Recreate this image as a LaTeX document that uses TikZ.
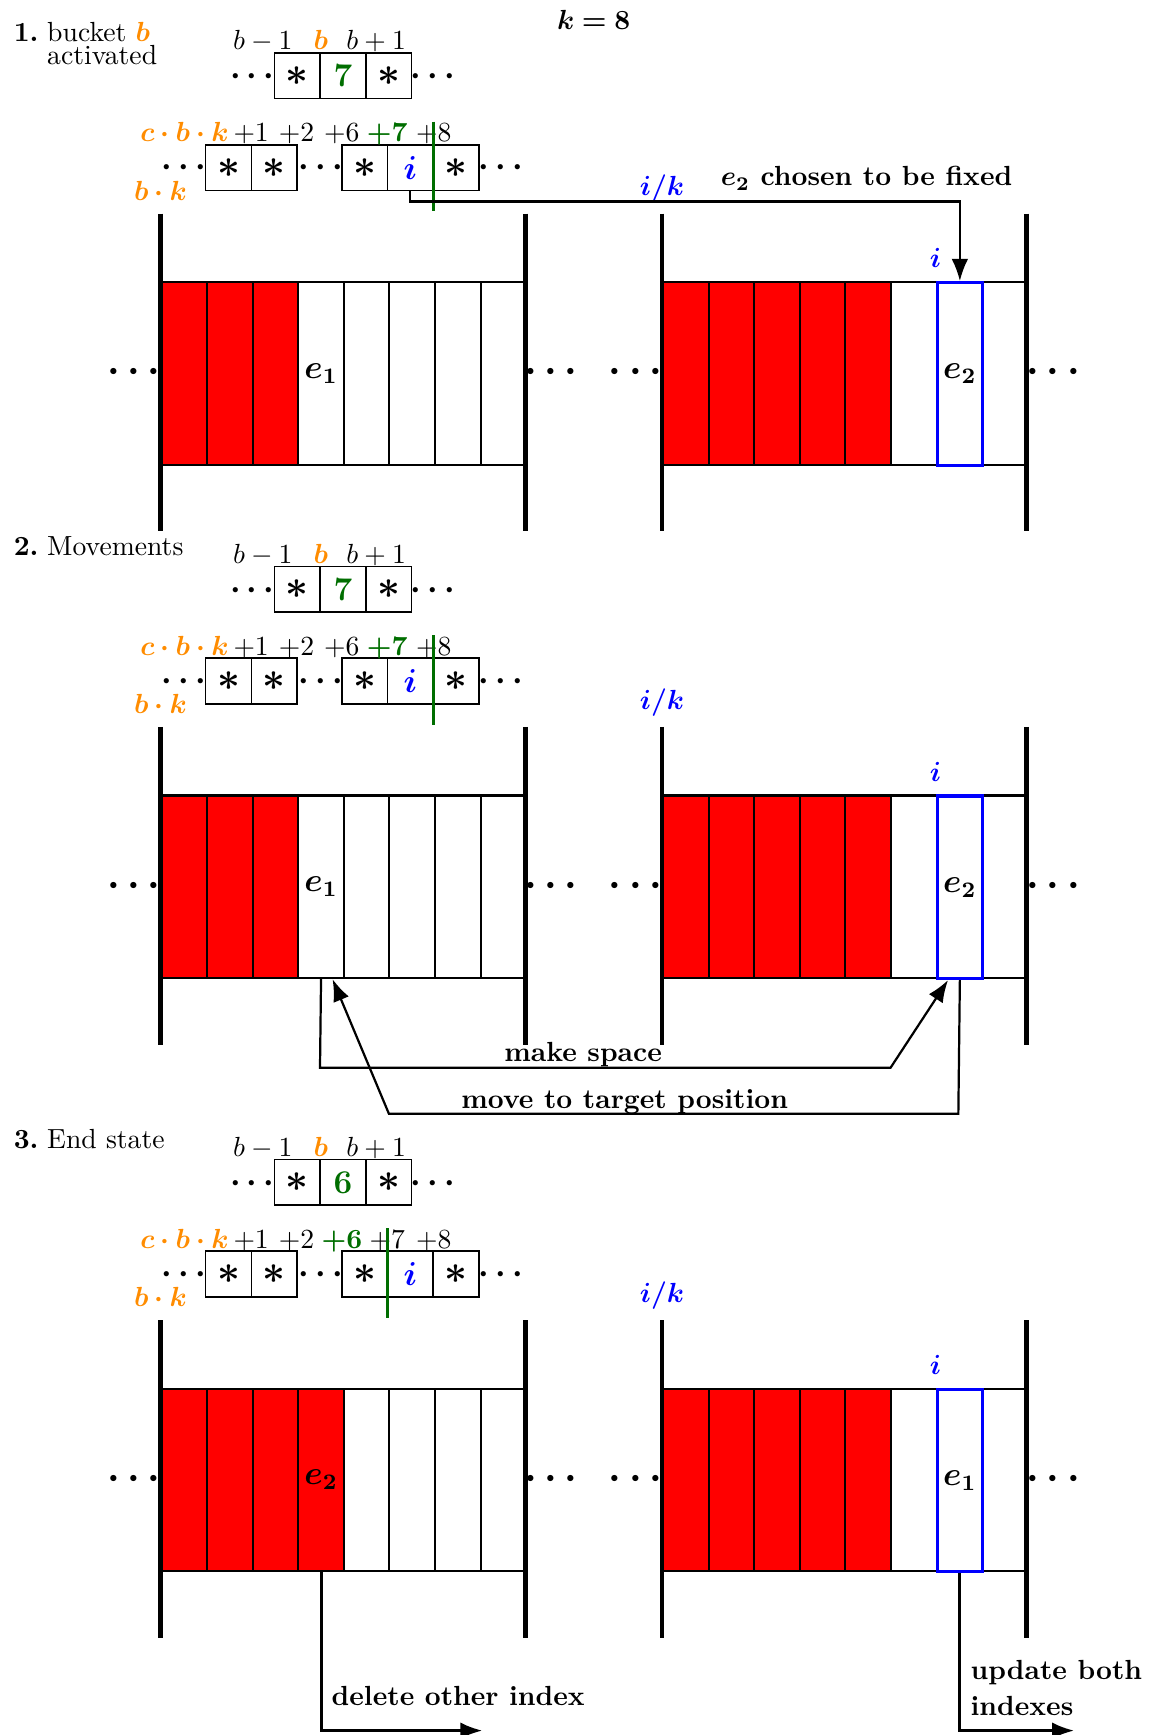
\documentclass[tikz,border=0pt]{standalone}
\usepackage{bm}
\usetikzlibrary{arrows.meta,calc}

\definecolor{bkorange}{RGB}{255,140,0}
\definecolor{bkgreen}{RGB}{0,110,0}
\definecolor{bkred}{RGB}{255,0,0}
\definecolor{bkblue}{RGB}{0,0,255}

\tikzset{
  smallcell/.style={draw, line width=0.6pt, minimum size=16.53pt, inner sep=0pt, font=\large},
  bigcell/.style={draw, line width=0.75pt, minimum width=16.48pt, minimum height=66pt,
                  inner sep=0pt, anchor=north west, font=\large},
  lbl/.style={anchor=base, inner sep=0pt},
  dotsS/.style={anchor=base, inner sep=0pt, font=\large},
  dotsL/.style={anchor=base, inner sep=0pt, font=\Large},
  bar/.style={line width=1.7pt},
  greenline/.style={draw=bkgreen, line width=1.1pt},
  arr/.style={draw, line width=0.8pt, -{Latex[length=8pt,width=6pt]}},
  arrlow/.style={draw, line width=1.1pt, -{Latex[length=8pt,width=6pt]}},
  note/.style={anchor=base, inner sep=0pt, font=\bfseries},
}

\newcommand\slotstar{\Large$\bm{\ast}$}
\newcommand\dts{$\bm{\cdots}$}

% One state of the table: bucket array, slot array of bucket b and two buckets of slots
% #1 prefix, #2 vertical offset, #3 count of bucket b, #4/#5 labels +6/+7,
% #6 x of the green marker, #7 filled slots on the left, #8/#9 element names
\newcommand\bucketstate[9]{%
  \begin{scope}[yshift={-#2*0.4pt}]
    % buckets b-1, b, b+1
    \node[smallcell] (#1bm) at (268.7,68.5) {\slotstar};
    \node[smallcell] (#1b)  at (310,68.5) {\textcolor{bkgreen}{\textbf{#3}}};
    \node[smallcell] (#1bp) at (351.3,68.5) {\slotstar};
    \node[dotsS] (#1da) at (228,76.5) {\dts};
    \node[dotsS] (#1db) at (391,76.5) {\dts};
    \node[lbl] (#1la) at (237.5,45) {$b-1$};
    \node[lbl] (#1lb) at (290,45) {\textcolor{bkorange}{$\bm{b}$}};
    \node[lbl] (#1lc) at (340,45) {$b+1$};
    % slots c.b.k+1 ... +8
    \node[smallcell] (#1s1) at (206.5,151.5) {\slotstar};
    \node[smallcell] (#1s2) at (247.8,151.5) {\slotstar};
    \node[smallcell] (#1s6) at (329.5,151.5) {\slotstar};
    \node[smallcell] (#1s7) at (370.8,151.5) {\textcolor{bkblue}{$\bm{i}$}};
    \node[smallcell] (#1s8) at (412.1,151.5) {\slotstar};
    \node[dotsS] (#1dc) at (166,159) {\dts};
    \node[dotsS] (#1dd) at (290,159) {\dts};
    \node[dotsS] (#1de) at (453,159) {\dts};
    \node[lbl,anchor=base east] (#1lk) at (207,128) {\textcolor{bkorange}{$\bm{c\cdot b\cdot k}$}};
    \node[lbl] (#1l1) at (227,128) {$+1$};
    \node[lbl] (#1l2) at (268,128) {$+2$};
    \node[lbl] (#1l6) at (309,128) {#4};
    \node[lbl] (#1l7) at (350,128) {#5};
    \node[lbl] (#1l8) at (392,128) {$+8$};
    \node[lbl] (#1lbk) at (145,181) {\textcolor{bkorange}{$\bm{b\cdot k}$}};
    \draw[greenline] (#6,110) -- (#6,191);
    % two buckets of k slots each
    \foreach \k in {0,...,7}{%
      \ifnum\k<#7 \def\cellfill{bkred}\else\def\cellfill{white}\fi
      \node[bigcell,fill=\cellfill] (#1L\k) at (145+\k*41.2,254) {};
      \ifnum\k<5 \def\cellfill{bkred}\else\def\cellfill{white}\fi
      \node[bigcell,fill=\cellfill] (#1R\k) at (598.3+\k*41.2,254) {};
    }
    \node[bigcell,draw=bkblue,line width=1.1pt] (#1E) at (845.5,254) {$\bm{#9}$};
    \node[font=\large] (#1e) at (#1L3) {$\bm{#8}$};
    \draw[bar] (145,193) -- (145,480);
    \draw[bar] (474.6,193) -- (474.6,480);
    \draw[bar] (598.3,193) -- (598.3,480);
    \draw[bar] (927.9,193) -- (927.9,480);
    \node[dotsL] (#1dw) at (121,345) {\dts};
    \node[dotsL] (#1dx) at (498,345) {\dts};
    \node[dotsL] (#1dy) at (574.5,345) {\dts};
    \node[dotsL] (#1dz) at (952,345) {\dts};
    \node[lbl] (#1ik) at (598.3,177) {\textcolor{bkblue}{$\bm{i/k}$}};
    \node[lbl] (#1i) at (845.5,242) {\textcolor{bkblue}{$\bm{i}$}};
  \end{scope}}

\begin{document}
\begin{tikzpicture}[x=0.4pt, y=-0.4pt]
  \useasboundingbox (0,0) rectangle (1046,1568);

  \node[lbl] (kval) at (536.5,27) {$\bm{k=8}$};

  % 1. bucket b activated
  \node[lbl,anchor=base west] (h1n) at (12,37.7) {\textbf{1.}};
  \node[lbl,anchor=base west] (h1t) at (42.2,37.7) {bucket \textcolor{bkorange}{$\bm{b}$}};
  \node[lbl,anchor=base west] (h1u) at (42.2,58.2) {activated};
  \bucketstate{a}{0}{7}{$+6$}{\textcolor{bkgreen}{$\bm{+7}$}}{392}{3}{e_1}{e_2}
  \coordinate (aturn) at (370.8,182);
  \draw[arr] (as7.south) -- (aturn) -| (aE.north);
  \node[note,anchor=base west] (anote) at (651,168) {$\bm{e_2}$ chosen to be fixed};

  % 2. Movements
  \node[lbl,anchor=base west] (h2n) at (12,501.7) {\textbf{2.}};
  \node[lbl,anchor=base west] (h2t) at (42.2,501.7) {Movements};
  \bucketstate{b}{464}{7}{$+6$}{\textcolor{bkgreen}{$\bm{+7}$}}{392}{3}{e_1}{e_2}
  \coordinate (bms1) at (289.2,965);
  \coordinate (bms2) at (804.8,965);
  \draw[arr] (bL3.south) -- (bms1) -- (bms2) -- ($(bE.south)+(-10.7,0)$);
  \coordinate (bmv1) at (866.1,1006.6);
  \coordinate (bmv2) at (351.5,1006.6);
  \draw[arr] (bE.south) -- (bmv1) -- (bmv2) -- ($(bL3.south)+(10.4,0)$);
  \node[note] (bms) at (527,959) {make space};
  \node[note] (bmv) at (564.6,1002) {move to target position};

  % 3. End state
  \node[lbl,anchor=base west] (h3n) at (12,1038.3) {\textbf{3.}};
  \node[lbl,anchor=base west] (h3t) at (42.2,1038.3) {End state};
  \bucketstate{c}{1000}{6}{\textcolor{bkgreen}{$\bm{+6}$}}{$+7$}{350}{4}{e_2}{e_1}
  \coordinate (cdel) at (436,1564);
  \draw[arrlow] (cL3.south) |- (cdel);
  \coordinate (cupd) at (970.8,1564);
  \draw[arrlow] (cE.south) |- (cupd);
  \node[note,anchor=base west] (cdn) at (299.3,1541) {delete other index};
  \node[note,anchor=base west] (cun) at (876.7,1517.5) {update both};
  \node[note,anchor=base west] (cuo) at (876.7,1550.6) {indexes};
\end{tikzpicture}
\end{document}
